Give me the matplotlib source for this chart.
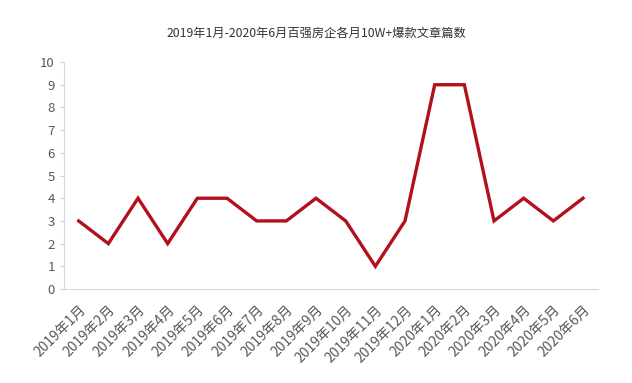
import matplotlib
matplotlib.use("Agg")
import matplotlib.pyplot as plt

plt.rcParams['font.family'] = ['Noto Sans CJK SC', 'DejaVu Sans']

months = ["2019年1月", "2019年2月", "2019年3月", "2019年4月", "2019年5月", "2019年6月",
          "2019年7月", "2019年8月", "2019年9月", "2019年10月", "2019年11月", "2019年12月",
          "2020年1月", "2020年2月", "2020年3月", "2020年4月", "2020年5月", "2020年6月"]
counts = [3, 2, 4, 2, 4, 4, 3, 3, 4, 3, 1, 3, 9, 9, 3, 4, 3, 4]
yticks = list(range(0, 11))

fig = plt.figure(figsize=(6.32, 3.83), dpi=100)
ax = fig.add_axes([0.101, 0.2454, 0.845, 0.5926])

x = range(len(months))
ax.plot(x, counts, color="#B2101C", linewidth=2.4, solid_joinstyle="miter")

ax.set_xlim(-0.5, len(months) - 0.5)
ax.set_ylim(0, 10)
ax.set_yticks(yticks)
ax.set_xticks(list(x))
ax.set_xticklabels(months, rotation=45, ha="right", rotation_mode="anchor",
                   fontsize=10, color="#595959")
ax.tick_params(axis="y", labelsize=9.5, colors="#D0D0D0", labelcolor="#595959",
               length=3, width=0.8)
ax.tick_params(axis="x", length=0, pad=10)

for side in ["top", "right"]:
    ax.spines[side].set_visible(False)
ax.spines["left"].set_color("#D9D9D9")
ax.spines["bottom"].set_color("#D9D9D9")

fig.text(0.5, 0.914, "2019年1月-2020年6月百强房企各月10W+爆款文章篇数",
         ha="center", va="center", fontsize=8.8, color="#333333")

fig.savefig("out.png", dpi=100)
plt.close(fig)
